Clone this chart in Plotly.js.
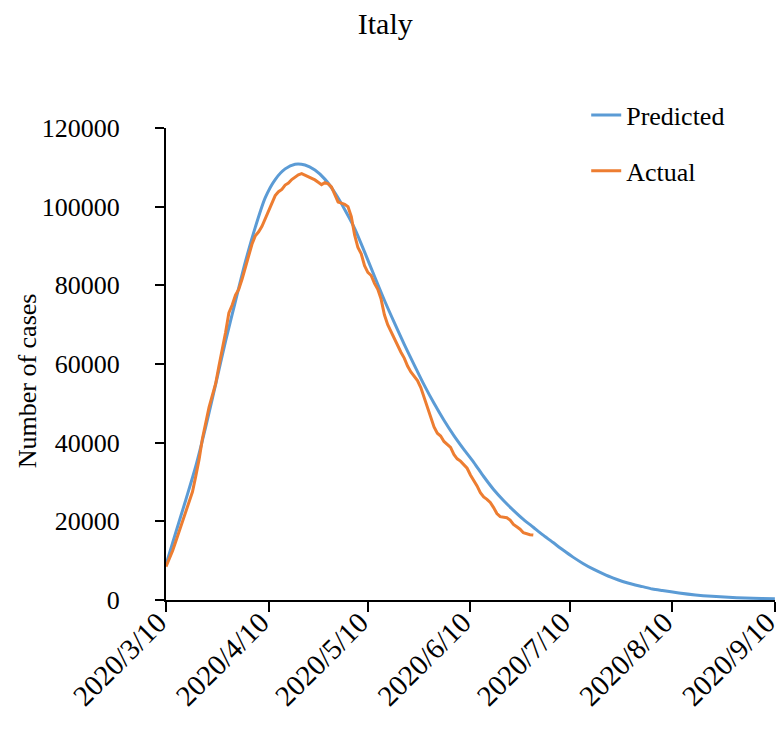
<!DOCTYPE html>
<html>
<head>
<meta charset="utf-8">
<script src="https://cdn.plot.ly/plotly-3.0.1.min.js"></script>
<style>
  html, body { margin: 0; padding: 0; background: #fff; }
  #chart { width: 783px; height: 732px; }
</style>
</head>
<body>
<div id="chart"></div>
<script>
// Italy: fitted model vs. observed active cases
const startDate = '2020-03-10';

// Model curve, sampled at day offsets from 2020-03-10
const predictedDays = [0, 3, 6, 9, 12, 15, 18, 21, 24, 27, 30, 33, 36, 39, 42, 45, 48, 51, 54, 57,
  60, 63, 66, 69, 72, 75, 78, 81, 84, 87, 90, 93, 96, 99, 102, 105, 108, 111, 114, 117,
  120, 123, 126, 129, 132, 135, 138, 141, 144, 147, 150, 155, 160, 165, 170, 175, 180, 184];
const predictedCases = [9000, 17300, 25500, 34000, 44000, 54800, 65800, 76000, 86000, 94800,
  102300, 106900, 109600, 110800, 110600, 109300, 107000, 103600, 99300, 94500,
  88500, 82300, 76200, 70500, 65000, 59800, 54700, 50000, 45700, 41800,
  38300, 35000, 31400, 28100, 25300, 22800, 20500, 18500, 16500, 14600,
  12700, 10900, 9300, 7900, 6700, 5600, 4700, 4000, 3400, 2800,
  2400, 1800, 1300, 950, 700, 500, 380, 300];

// Observed active cases, one value per day from 2020-03-10
const actualCases = [8500, 10500, 12500, 15000, 17500, 19800, 22200, 24800, 27500, 31500,
  35700, 41000, 45000, 49000, 52000, 55000, 59500, 63500, 68000, 73000,
  75000, 77500, 79000, 81600, 84500, 87600, 90500, 92600, 93600, 95000,
  97000, 99000, 101200, 102800, 103800, 104400, 105500, 106000, 106900, 107500,
  108100, 108400, 108000, 107700, 107400, 106800, 106200, 105600, 106100, 105800,
  105000, 103000, 101200, 100900, 100600, 100000, 97500, 92800, 89600, 88000,
  85000, 83300, 82500, 80500, 79000, 76500, 72500, 70000, 68200, 66400,
  64500, 63000, 61500, 59500, 58000, 57000, 55800, 54000, 51500, 48500,
  46500, 44000, 42400, 41700, 40300, 39500, 38800, 37000, 35900, 35300,
  34500, 33500, 31800, 30500, 29000, 27300, 26200, 25600, 24800, 23500,
  22000, 21200, 21100, 20900, 20300, 19200, 18600, 18000, 17100, 16800,
  16600, 16500];

const tickDates = ['2020-03-10', '2020-04-10', '2020-05-10', '2020-06-10', '2020-07-10', '2020-08-10', '2020-09-10'];
const tickLabels = ['2020/3/10', '2020/4/10', '2020/5/10', '2020/6/10', '2020/7/10', '2020/8/10', '2020/9/10'];
const yTicks = [0, 20000, 40000, 60000, 80000, 100000, 120000];

function dayToDate(offset) {
  const d = new Date(startDate + 'T00:00:00Z');
  d.setUTCDate(d.getUTCDate() + offset);
  return d.toISOString().slice(0, 10);
}

const predictedX = predictedDays.map(dayToDate);
const actualX = actualCases.map((_, i) => dayToDate(i));

const FONT = 'Liberation Serif, Times New Roman, serif';

const traces = [
  {
    x: predictedX, y: predictedCases, name: 'Predicted', type: 'scatter', mode: 'lines',
    line: { color: '#5B9BD5', width: 3, shape: 'spline', smoothing: 0.8 },
    legendgroup: 'p'
  },
  {
    x: actualX, y: actualCases, name: 'Actual', type: 'scatter', mode: 'lines',
    line: { color: '#ED7D31', width: 3 },
    legendgroup: 'a'
  }
];

const layout = {
  width: 783, height: 732,
  margin: { l: 166, r: 8, t: 128, b: 132 },
  paper_bgcolor: '#fff', plot_bgcolor: '#fff',
  font: { family: FONT, size: 26, color: '#000' },
  title: {
    text: 'Italy', x: 0.492, xref: 'container', xanchor: 'center',
    y: 0.968, yref: 'container', yanchor: 'middle',
    font: { family: FONT, size: 30, color: '#000' }
  },
  xaxis: {
    type: 'date',
    range: ['2020-03-10', '2020-09-10 01:00'],
    tickmode: 'array', tickvals: tickDates, ticktext: tickLabels,
    tickangle: -45,
    ticks: 'outside', ticklen: 10, tickwidth: 2, tickcolor: '#000',
    showline: true, linecolor: '#000', linewidth: 2,
    showgrid: false, zeroline: false,
    ticklabelstandoff: -18,
    ticklabelshift: -8,
    ticklabeloverflow: 'allow',
    tickfont: { family: FONT, size: 29, color: '#000' }
  },
  yaxis: {
    range: [0, 120000],
    tickmode: 'array', tickvals: yTicks, ticktext: yTicks.map(String),
    ticks: 'outside', ticklen: 9, tickwidth: 2, tickcolor: '#000',
    showline: true, linecolor: '#000', linewidth: 2,
    showgrid: false, zeroline: false,
    ticklabelstandoff: 30,
    tickfont: { family: FONT, size: 26, color: '#000' }
  },
  legend: {
    x: 0.69, y: 1.077, xanchor: 'left', yanchor: 'top',
    bgcolor: 'rgba(0,0,0,0)', tracegroupgap: 19,
    font: { family: FONT, size: 26, color: '#000' }
  },
  annotations: [{
    text: 'Number of cases', textangle: -90,
    xref: 'paper', yref: 'paper', x: -0.227, y: 0.465,
    xanchor: 'center', yanchor: 'middle', showarrow: false,
    font: { family: FONT, size: 26, color: '#000' }
  }]
};

Plotly.newPlot('chart', traces, layout, { displayModeBar: false, staticPlot: true });
</script>
</body>
</html>
